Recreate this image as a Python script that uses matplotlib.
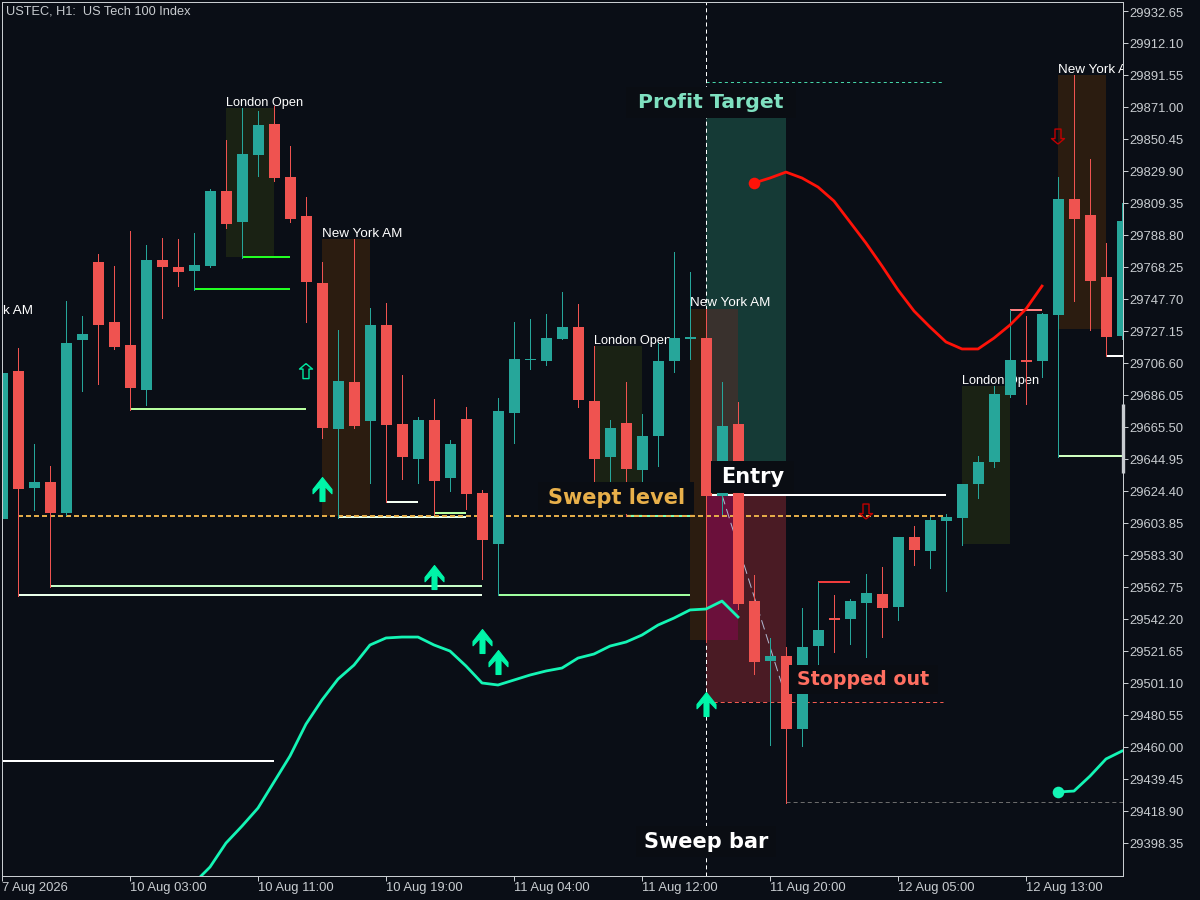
import matplotlib
matplotlib.use("Agg")
from matplotlib import pyplot as plt
from matplotlib.patches import Rectangle
from matplotlib.transforms import ScaledTranslation

plt.rcParams['font.family'] = ['Liberation Sans', 'DejaVu Sans']
plt.rcParams['lines.scale_dashes'] = False

# candles, one hourly bar per entry
opens = [29606.4, 29701.4, 29626.3, 29630.2, 29610.3, 29721.4, 29771.4, 29732.9, 29718.1, 29689.2,
         29772.7, 29768.2, 29765.7, 29768.9, 29817.0, 29797.1, 29840.2, 29860.1, 29826.0, 29801.0,
         29758.0, 29664.2, 29694.4, 29669.3, 29731.0, 29667.4, 29644.9, 29670.0, 29632.7, 29670.6,
         29623.1, 29590.3, 29674.5, 29708.5, 29707.9, 29722.0, 29729.7, 29682.2, 29646.2, 29668.1,
         29637.9, 29659.7, 29707.9, 29722.0, 29722.6, 29621.2, 29667.4, 29553.7, 29515.2, 29518.4,
         29471.5, 29524.8, 29542.8, 29542.2, 29552.5, 29558.2, 29549.9, 29594.8, 29585.8, 29605.1,
         29607.0, 29628.9, 29643.0, 29686.0, 29708.5, 29707.9, 29737.4, 29811.9, 29801.6, 29761.8,
         29723.9]
highs = [29700.2, 29716.2, 29654.6, 29640.4, 29746.4, 29736.8, 29776.6, 29768.9, 29791.4, 29782.4,
         29786.9, 29786.2, 29790.1, 29818.3, 29849.8, 29870.3, 29868.4, 29871.6, 29845.9, 29813.2,
         29771.4, 29727.8, 29786.2, 29741.9, 29745.1, 29698.9, 29671.9, 29683.5, 29657.1, 29678.3,
         29625.0, 29684.1, 29732.9, 29734.8, 29738.0, 29752.2, 29744.5, 29717.5, 29670.0, 29694.4,
         29673.8, 29719.4, 29777.9, 29765.0, 29741.3, 29694.4, 29681.5, 29570.4, 29530.0, 29524.2,
         29549.2, 29565.9, 29557.6, 29555.0, 29571.1, 29575.6, 29594.8, 29601.9, 29607.7, 29609.6,
         29628.9, 29646.9, 29691.8, 29740.6, 29736.8, 29738.7, 29826.0, 29891.5, 29837.6, 29783.6,
         29809.3]
lows = [29606.4, 29556.9, 29612.2, 29562.7, 29609.0, 29688.6, 29693.1, 29715.6, 29676.4, 29679.6,
        29735.5, 29756.0, 29753.5, 29768.2, 29793.3, 29774.0, 29826.7, 29823.5, 29797.1, 29732.9,
        29658.4, 29607.0, 29664.8, 29629.5, 29617.3, 29632.1, 29629.5, 29609.6, 29624.4, 29612.8,
        29567.9, 29557.6, 29655.2, 29702.7, 29705.3, 29722.0, 29678.3, 29630.2, 29630.2, 29608.3,
        29628.2, 29640.4, 29700.8, 29709.2, 29527.4, 29609.6, 29548.6, 29506.9, 29461.3, 29424.0,
        29460.6, 29512.6, 29521.0, 29526.1, 29517.8, 29530.6, 29541.5, 29576.9, 29574.9, 29560.2,
        29589.7, 29619.9, 29639.8, 29684.7, 29680.3, 29697.6, 29646.2, 29746.4, 29727.8, 29711.1,
        29722.0]
closes = [29700.2, 29625.7, 29630.2, 29610.3, 29719.4, 29725.2, 29731.0, 29716.9, 29690.5, 29772.7,
          29768.2, 29765.0, 29769.5, 29817.0, 29795.8, 29840.8, 29859.4, 29825.4, 29799.1, 29758.6,
          29664.8, 29695.0, 29666.1, 29731.0, 29666.8, 29646.2, 29670.0, 29630.8, 29654.6, 29622.5,
          29592.9, 29675.8, 29709.2, 29709.2, 29722.6, 29729.7, 29682.8, 29644.9, 29664.8, 29638.5,
          29659.7, 29707.9, 29722.6, 29723.3, 29621.2, 29666.1, 29551.8, 29514.6, 29518.4, 29471.5,
          29524.2, 29535.1, 29541.5, 29553.7, 29558.9, 29549.2, 29594.8, 29586.5, 29605.8, 29607.7,
          29628.9, 29643.0, 29686.7, 29708.5, 29707.2, 29738.0, 29811.9, 29799.1, 29759.2, 29723.3,
          29797.8]

# moving average lines
teal_ma_bars = list(range(12, 47))
teal_ma = [29372.6, 29382.9, 29398.3, 29409.2, 29420.8, 29437.5, 29454.2, 29474.7, 29490.2, 29503.6,
           29512.6, 29525.5, 29530.0, 29530.6, 29530.6, 29525.5, 29521.6, 29512.0, 29501.1, 29499.8,
           29503.0, 29506.2, 29508.8, 29510.7, 29517.1, 29519.7, 29524.8, 29527.4, 29531.9, 29538.3,
           29542.8, 29548.0, 29548.6, 29553.7, 29543.5]
teal_ma2_bars = [66, 67, 68, 69, 70]
teal_ma2 = [29431.1, 29431.7, 29441.3, 29452.3, 29457.4]
red_ma_bars = list(range(47, 66))
red_ma = [29822.2, 29825.4, 29829.2, 29825.4, 29819.6, 29810.6, 29797.1, 29783.6, 29768.9, 29753.5,
          29740.0, 29729.7, 29720.1, 29715.6, 29715.6, 29722.6, 29731.0, 29741.3, 29756.0]

# horizontal levels: start bar, end bar, price, colour
level_start = [15, 12, 8, 1, 3, 21, 24, 27, 31, 39, 0, 44, 51, 63, 66, 69]
level_end = [18, 18, 19, 30, 30, 29, 26, 29, 43, 43, 17, 59, 53, 65, 70.1, 70.1]
level_price = [29774.7, 29754.1, 29677.0, 29557.6, 29563.4, 29607.7, 29617.3, 29610.3, 29557.6, 29608.3,
               29451.0, 29621.8, 29565.9, 29740.6, 29646.9, 29711.1]
level_color = ['#22ff22', '#22ff22', '#b8ffa0', '#eaffea', '#c8ffc8', '#e8ffe8', '#f4fff4', '#b8ffa0',
               '#a0ffa0', '#7fffaf', '#ffffff', '#ffffff', '#f03c3c', '#ff8080', '#d0ffc0', '#ffffff']

# sessions: name, start bar, end bar, top price, bottom price
session_names = ['London Open', 'New York AM', 'London Open', 'New York AM', 'London Open', 'New York AM']
session_start = [14, 20, 37, 43, 60, 66]
session_end = [17, 23, 40, 46, 63, 69]
session_top = [29870.3, 29786.2, 29717.5, 29741.3, 29691.8, 29891.5]
session_bottom = [29774.7, 29608.3, 29609.0, 29528.7, 29590.3, 29728.4]
session_label_price = [29871.6, 29787.5, 29718.8, 29743.2, 29693.1, 29892.8]

# arrows
buy_bars = [20, 27, 30, 31, 44]
buy_prices = [29625.7, 29569.2, 29528.1, 29514.6, 29487.6]
sell_bars = [54, 66]
sell_prices = [29611.2, 29852.0]

# axis labels
y_ticks = [29932.65, 29912.10, 29891.55, 29871.00, 29850.45, 29829.90, 29809.35, 29788.80, 29768.25,
           29747.70, 29727.15, 29706.60, 29686.05, 29665.50, 29644.95, 29624.40, 29603.85, 29583.30,
           29562.75, 29542.20, 29521.65, 29501.10, 29480.55, 29460.00, 29439.45, 29418.90, 29398.35]
x_ticks = [0, 8, 16, 24, 32, 40, 48, 56, 64]
x_labels = ['7 Aug 2026', '10 Aug 03:00', '10 Aug 11:00', '10 Aug 19:00', '11 Aug 04:00',
            '11 Aug 12:00', '11 Aug 20:00', '12 Aug 05:00', '12 Aug 13:00']

BG = '#0a0e16'
TEAL = '#26a69a'
RED = '#ef5350'
AXIS = '#c8ccd0'
ARROW = '#00f5a8'

fig = plt.figure(figsize=(12, 9), dpi=100, facecolor=BG)
ax = fig.add_axes([2 / 1200, 24 / 900, 1121 / 1200, 874 / 900], facecolor=BG)
ax.set_xlim(0, 70.0625)
ax.set_ylim(29377.14, 29938.43)


def box(x0, x1, top, bottom, color, z=1):
    ax.add_patch(Rectangle((x0, bottom), x1 - x0, top - bottom, facecolor=color, edgecolor='none', zorder=z))


# sessions and trade zones
for name, x0, x1, top, bottom, lp in zip(session_names, session_start, session_end, session_top,
                                         session_bottom, session_label_price):
    box(x0, x1, top, bottom, '#1a2214' if name == 'London Open' else '#2b1c10')
    ax.text(x0, lp, name, color='white', fontsize=9.2 if name == 'London Open' else 9.7, va='baseline',
            zorder=2, clip_on=True)
ax.text(0.06, 29738.0, 'k AM', color='white', fontsize=9.7, va='baseline', zorder=2)

box(44, 49, 29863.9, 29643.6, '#153a36')
box(44, 49, 29621.8, 29488.9, '#4a1b24')
box(44, 46, 29741.3, 29643.6, '#39312d', 1.5)
box(44, 46, 29621.8, 29528.7, '#6b103b', 1.5)

# levels
for x0, x1, p, c in zip(level_start, level_end, level_price, level_color):
    ax.plot([x0, x1], [p, p], color=c, lw=1.44, solid_capstyle='butt', zorder=3)

ax.plot([1, 59], [29608.3, 29608.3], color='#e8b04a', lw=1.4, ls=(0, (3.6, 2.16)), zorder=3.2)
ax.plot([44, 58.8], [29887.0, 29887.0], color='#45d6a8', lw=0.72, ls=(0, (2.2, 2.2)), zorder=3)
ax.plot([44, 58.8], [29488.9, 29488.9], color='#f25b50', lw=0.72, ls=(0, (2.9, 2.2)), zorder=3)
ax.plot([49, 70.1], [29424.7, 29424.7], color='#6b6b6b', lw=0.72, ls=(0, (2.9, 2.2)), zorder=3)
ax.plot([45, 48.9], [29621.8, 29495.0], color='#b0b8d0', lw=0.72, ls=(0, (7, 3.5)), zorder=3.8)
ax.plot([44, 44], [29377.14, 29938.43], color='white', lw=0.72, ls=(0, (2.9, 2.2)), zorder=3.5)

# candles
bars = range(len(opens))
for i, o, h, l, c in zip(bars, opens, highs, lows, closes):
    col = TEAL if c >= o else RED
    ax.plot([i, i], [l, h], color=col, lw=0.72, antialiased=False, solid_capstyle='butt', zorder=4)
    ax.bar(i, abs(c - o), bottom=min(o, c), width=11 / 16, color=col, linewidth=0, antialiased=False, zorder=4)

# moving averages
ax.plot(teal_ma_bars, teal_ma, color='#14f5b5', lw=2.0, zorder=5)
ax.plot(teal_ma2_bars, teal_ma2, color='#14f5b5', lw=2.0, zorder=5)
ax.plot(red_ma_bars, red_ma, color='#ff1208', lw=2.0, zorder=5)
ax.scatter(teal_ma2_bars[0], teal_ma2[0], s=70, color='#14f5b5', linewidth=0, zorder=5.5)
ax.scatter(red_ma_bars[0], red_ma[0], s=70, color='#ff1208', linewidth=0, zorder=5.5)

# arrows
up_arrow = [(0, 12), (9.5, 0), (9.5, -4.3), (2.5, 3), (2.5, -12), (-2.5, -12), (-2.5, 3), (-9.5, -4.3),
            (-9.5, 0), (0, 12)]
hollow_up = [(0, 7.5), (6.5, 2), (3, 2), (3, -7.5), (-3, -7.5), (-3, 2), (-6.5, 2), (0, 7.5)]
hollow_down = [(x, -y) for x, y in hollow_up]
ax.scatter(buy_bars, buy_prices, marker=up_arrow, s=298, color=ARROW, edgecolor=ARROW, linewidth=0.8, zorder=6)
ax.scatter([19], [29701.4], marker=hollow_up, s=117, facecolor='none', edgecolor='#00e8a0', linewidth=1, zorder=6)
ax.scatter(sell_bars, sell_prices, marker=hollow_down, s=117, facecolor='none', edgecolor='#c00000',
           linewidth=1, zorder=6)


def tag(x0, x1, top, bottom, text, color, size=15):
    box(x0, x1, top, bottom, '#0a0d13', 7)
    ax.text((x0 + x1) / 2, (top + bottom) / 2, text, color=color, fontsize=size, fontweight='bold',
            family='DejaVu Sans', ha='center', va='center', zorder=8)


tag(39.03, 49.6, 29883.8, 29863.9, 'Profit Target', '#7fe0c0', 14.7)
tag(33.53, 43.28, 29630.2, 29609.6, 'Swept level', '#e8b04a')
tag(44.34, 49.47, 29643.6, 29623.1, 'Entry', 'white')
tag(49.16, 58.53, 29512.6, 29494.0, 'Stopped out', '#ff6f61', 13.7)
tag(39.6, 48.4, 29409.2, 29389.3, 'Sweep bar', 'white')

# axes
ax.yaxis.tick_right()
ax.set_yticks(y_ticks)
ax.set_yticklabels(['%.2f' % v for v in y_ticks])
ax.set_xticks(x_ticks)
ax.set_xticklabels(x_labels, ha='left')
ax.tick_params(axis='both', colors=AXIS, labelsize=9.35, length=3.6, width=0.72, pad=1)
for side in ax.spines:
    ax.spines[side].set_color(AXIS)
    ax.spines[side].set_linewidth(0.72)
    ax.spines[side].set_zorder(9)

# price labels sit a pixel lower than matplotlib puts them
down_1px = ScaledTranslation(0, -1 / 100, fig.dpi_scale_trans)
for t in ax.get_yticklabels():
    t.set_transform(t.get_transform() + down_1px)

# scroll marker on the price scale
ax.plot([1, 1], [29680.2, 29635.9], transform=ax.get_yaxis_transform(), color=AXIS, lw=2.4,
        solid_capstyle='butt', clip_on=False, zorder=9)

ax.text(0.004, 0.9895, 'USTEC, H1:  US Tech 100 Index', transform=ax.transAxes, color=AXIS, fontsize=9.2,
        va='center', zorder=8)

fig.savefig('out.png', dpi=100, facecolor=BG)
